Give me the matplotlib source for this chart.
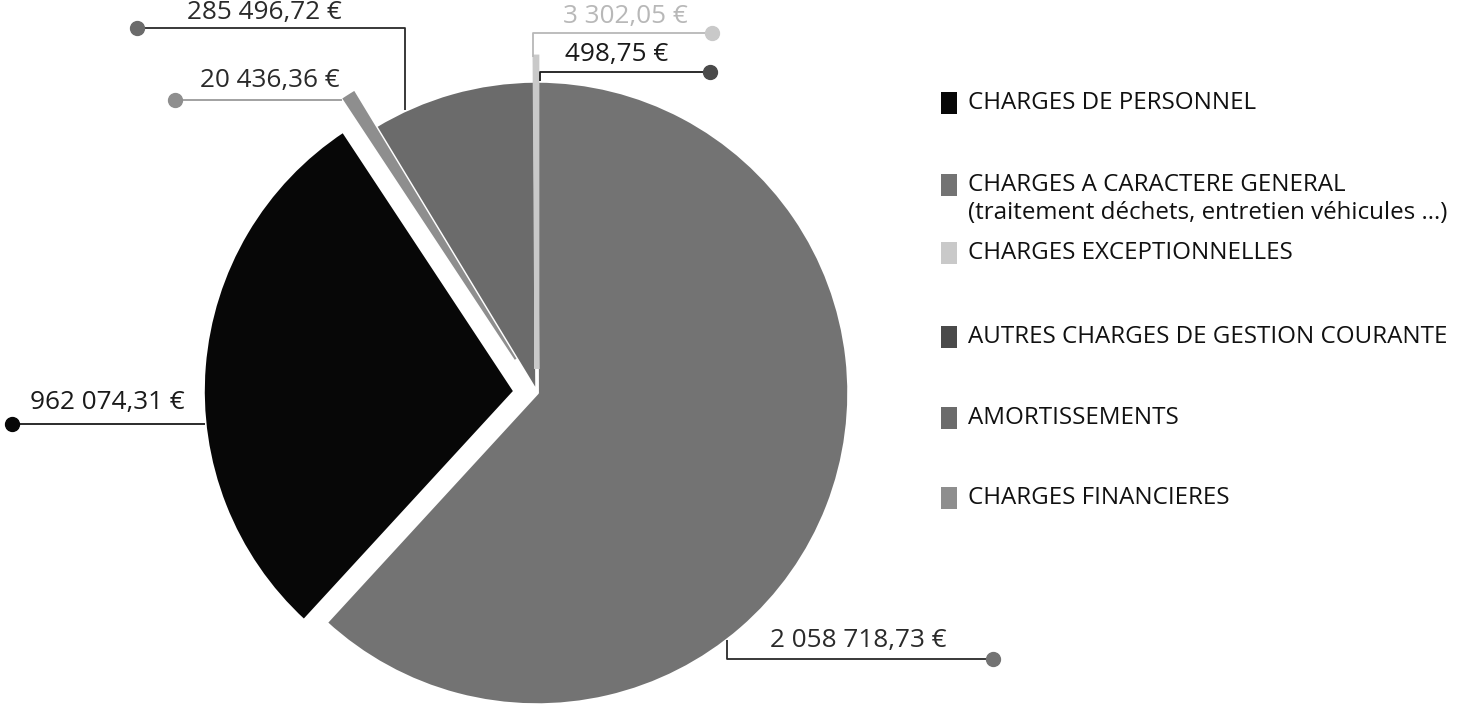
import math
import matplotlib
matplotlib.use("Agg")
import matplotlib.pyplot as plt
from matplotlib.patches import Rectangle

plt.rcParams["font.family"] = ["Open Sans", "DejaVu Sans"]

# Budget lines (legend order)
categories = [
    "CHARGES DE PERSONNEL",
    "CHARGES A CARACTERE GENERAL\n(traitement déchets, entretien véhicules ...)",
    "CHARGES EXCEPTIONNELLES",
    "AUTRES CHARGES DE GESTION COURANTE",
    "AMORTISSEMENTS",
    "CHARGES FINANCIERES",
]
amounts = [962074.31, 2058718.73, 3302.05, 498.75, 285496.72, 20436.36]
value_labels = ["962 074,31 €", "2 058 718,73 €", "3 302,05 €",
                "498,75 €", "285 496,72 €", "20 436,36 €"]
colors = ["#070707", "#737373", "#c9c9c9", "#4a4a4a", "#6b6b6b", "#8e8e8e"]

# slices go clockwise from 12 o'clock in this order
pie_order = [3, 1, 0, 5, 4, 2]
explode = {0: 22, 2: 24, 5: 40}

W, H = 1473, 708
CX, CY, R = 537, H - 393, 312

fig = plt.figure(figsize=(W / 100, H / 100), dpi=100)
ax = fig.add_axes([0, 0, 1, 1])

wedges, _ = ax.pie(
    [amounts[i] for i in pie_order],
    colors=[colors[i] for i in pie_order],
    explode=[explode.get(i, 0) for i in pie_order],
    startangle=90, counterclock=False,
    radius=R, center=(CX, CY),
    wedgeprops=dict(edgecolor="white", linewidth=2.5),
)
wedge_of = {cat: w for cat, w in zip(pie_order, wedges)}

# very thin slices would vanish under the white borders
for i, lw in [(2, 3.5), (5, 1.5)]:
    w = wedge_of[i]
    w.set_edgecolor(colors[i])
    w.set_linewidth(lw)
    w.set_zorder(3)

ax.set_xlim(0, W)
ax.set_ylim(0, H)
ax.set_aspect("equal")
ax.axis("off")


def arc_y(w, x, top=True):
    cx, cy = w.center
    d = math.sqrt(max(w.r ** 2 - (x - cx) ** 2, 0))
    return cy + d if top else cy - d


def arc_x(w, y):
    cx, cy = w.center
    return cx - math.sqrt(max(w.r ** 2 - (y - cy) ** 2, 0))


# leader layout: (text x, text y, line y, dot x, elbow x or None, text colour, line colour)
leaders = {
    4: (187, 13, 28, 137, 405, "#2a2a2a", "#2a2a2a"),
    5: (200, 80, 100, 175, None, "#2a2a2a", "#9a9a9a"),
    2: (563, 16, 33, 712, 533, "#b8b8b8", "#b8b8b8"),
    3: (565, 54, 72, 710, 540, "#1a1a1a", "#1a1a1a"),
    0: (30, 403, 424, 12, None, "#1a1a1a", "#1a1a1a"),
    1: (770, 641, 659, 993, 727, "#2a2a2a", "#2a2a2a"),
}

for i, (tx, ty, ly, dx, ex, tcol, lcol) in leaders.items():
    w = wedge_of[i]
    yl = H - ly
    if ex is None:
        # straight horizontal leader ending on the slice's outer edge
        xs = [dx, arc_x(w, yl)]
        ys = [yl, yl]
    else:
        top = yl > w.center[1]
        xs = [dx, ex, ex]
        ys = [yl, yl, arc_y(w, ex, top)]
    ax.plot(xs, ys, color=lcol, lw=1.3, zorder=4, solid_capstyle="butt")
    ax.plot([dx], [yl], "o", ms=10, color=colors[i], mec=colors[i], zorder=5)
    ax.text(tx, H - ty, value_labels[i], fontsize=18.8, color=tcol,
            ha="left", va="center", zorder=5)

# legend on the right
legend_y = [103, 185, 253, 337, 418, 498]
for cat, y in zip(range(len(categories)), legend_y):
    ax.add_patch(Rectangle((941, H - y - 11), 16, 22, facecolor=colors[cat],
                           edgecolor="none"))
    for k, line in enumerate(categories[cat].split("\n")):
        ax.text(968, H - y - k * 28, line, fontsize=17.4, color="#111111",
                ha="left", va="center")

fig.savefig("out.png", dpi=100, facecolor="white")
